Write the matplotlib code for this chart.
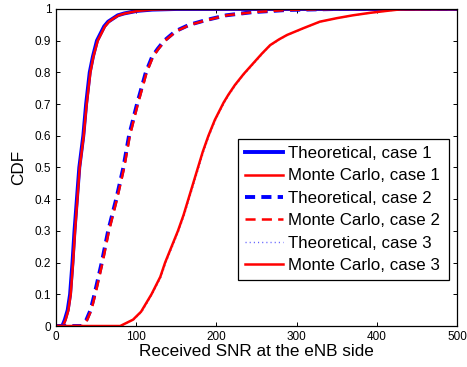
import numpy as np
import matplotlib
matplotlib.use("Agg")
import matplotlib.pyplot as plt

# values
case1_theo_x = [0, 7, 8.5, 11, 14.5, 17.5, 20.5, 23, 26, 29, 34, 37.5, 42, 46, 51, 55, 60, 65, 71, 77, 85, 101, 120, 150, 500]
case1_theo_y = [0, 0, 0.004, 0.02, 0.05, 0.1, 0.2, 0.3, 0.4, 0.5, 0.6, 0.7, 0.8, 0.85, 0.9, 0.92, 0.945, 0.96, 0.97, 0.98, 0.986, 0.994, 0.998, 1, 1]
case1_mc_x = [0, 8, 9, 12, 15.4, 18.3, 21.2, 23.7, 26.6, 29.5, 34.5, 38.2, 42.8, 46.6, 52, 56, 61, 66, 71.5, 78, 86, 102, 120, 150, 500]
case1_mc_y = [0, 0, 0.003, 0.02, 0.05, 0.1, 0.2, 0.3, 0.4, 0.5, 0.6, 0.7, 0.8, 0.85, 0.9, 0.92, 0.945, 0.96, 0.97, 0.98, 0.986, 0.994, 0.998, 1, 1]

case2_theo_x = [0, 32, 38, 43, 48, 57, 65, 75, 84, 91, 101, 112, 120, 127, 135, 149, 166, 187, 212, 245, 289, 350, 500]
case2_theo_y = [0, 0, 0.02, 0.05, 0.1, 0.2, 0.3, 0.4, 0.5, 0.6, 0.7, 0.8, 0.85, 0.875, 0.9, 0.93, 0.95, 0.965, 0.98, 0.99, 0.997, 1, 1]
case2_mc_x = [0, 33, 39, 44, 49, 58, 66, 76, 85, 92, 102, 113, 121, 128, 136, 150, 167, 188, 213, 246, 290, 350, 500]
case2_mc_y = [0, 0, 0.02, 0.05, 0.1, 0.2, 0.3, 0.4, 0.5, 0.6, 0.7, 0.8, 0.85, 0.875, 0.9, 0.93, 0.95, 0.965, 0.98, 0.99, 0.997, 1, 1]

case3_theo_x = [0, 81, 89, 97, 107, 120, 131, 137, 145, 153, 160, 166, 172, 178, 184, 191, 199, 205, 210, 216, 224, 235, 247, 258, 268, 279, 289, 309, 330, 351, 371, 393, 413, 431, 500]
case3_theo_y = [0, 0, 0.01, 0.02, 0.045, 0.1, 0.155, 0.2, 0.25, 0.3, 0.35, 0.4, 0.45, 0.5, 0.55, 0.6, 0.65, 0.68, 0.705, 0.73, 0.76, 0.795, 0.829, 0.86, 0.886, 0.904, 0.918, 0.939, 0.96, 0.971, 0.98, 0.988, 0.994, 0.999, 1]
case3_mc_x = [0, 80, 88, 96, 106, 119, 130, 136, 144, 152, 159, 165, 171, 177, 183, 190, 198, 204, 209, 215, 223, 234, 246, 257, 267, 278, 288, 308, 329, 350, 370, 392, 412, 430, 500]
case3_mc_y = [0, 0, 0.01, 0.02, 0.045, 0.1, 0.155, 0.2, 0.25, 0.3, 0.35, 0.4, 0.45, 0.5, 0.55, 0.6, 0.65, 0.68, 0.705, 0.73, 0.76, 0.795, 0.829, 0.86, 0.886, 0.904, 0.918, 0.939, 0.96, 0.971, 0.98, 0.988, 0.994, 0.999, 1]

x_ticks = [0, 100, 200, 300, 400, 500]
y_ticks = [0, 0.1, 0.2, 0.3, 0.4, 0.5, 0.6, 0.7, 0.8, 0.9, 1]
y_tick_labels = ["0", "0.1", "0.2", "0.3", "0.4", "0.5", "0.6", "0.7", "0.8", "0.9", "1"]

plt.rcParams["font.family"] = ["Liberation Sans", "DejaVu Sans"]

fig = plt.figure(figsize=(4.67, 3.67), dpi=100)
ax = fig.add_axes([0.120, 0.1117, 0.8586, 0.8638])

ax.plot(case1_theo_x, case1_theo_y, color="#0000ff", lw=2.8, label="Theoretical, case 1")
ax.plot(case1_mc_x, case1_mc_y, color="#ff0000", lw=1.8, label="Monte Carlo, case 1")
ax.plot(case2_theo_x, case2_theo_y, color="#0000ff", lw=2.8, ls=(0, (2.6, 1.6)), label="Theoretical, case 2")
ax.plot(case2_mc_x, case2_mc_y, color="#ff0000", lw=1.8, ls=(0, (4.04, 2.49)), label="Monte Carlo, case 2")
ax.plot(case3_theo_x, case3_theo_y, color="#6060ff", lw=1.0, ls=(0, (0.8, 2.2)), label="Theoretical, case 3")
ax.plot(case3_mc_x, case3_mc_y, color="#ff0000", lw=1.8, label="Monte Carlo, case 3")

ax.set_xlim(0, 500)
ax.set_ylim(0, 1)
ax.set_xticks(x_ticks)
ax.set_yticks(y_ticks)
ax.set_yticklabels(y_tick_labels)
ax.tick_params(direction="in", top=True, right=True, labelsize=8.5, length=3, width=0.7)
for s in ax.spines.values():
    s.set_linewidth(0.9)
ax.set_xlabel("Received SNR at the eNB side", fontsize=12.3, labelpad=1)
ax.set_ylabel("CDF", fontsize=12.3, labelpad=6)

leg = ax.legend(loc="lower left", bbox_to_anchor=(0.4539, 0.145, 0.526, 0.3), mode="expand",
                borderaxespad=0, fontsize=12.2, handlelength=2.25, labelspacing=0.44,
                handletextpad=0.3, fancybox=False, framealpha=1, edgecolor="black",
                borderpad=0.4)
leg.get_frame().set_linewidth(0.9)

fig.savefig("out.png", dpi=100)
